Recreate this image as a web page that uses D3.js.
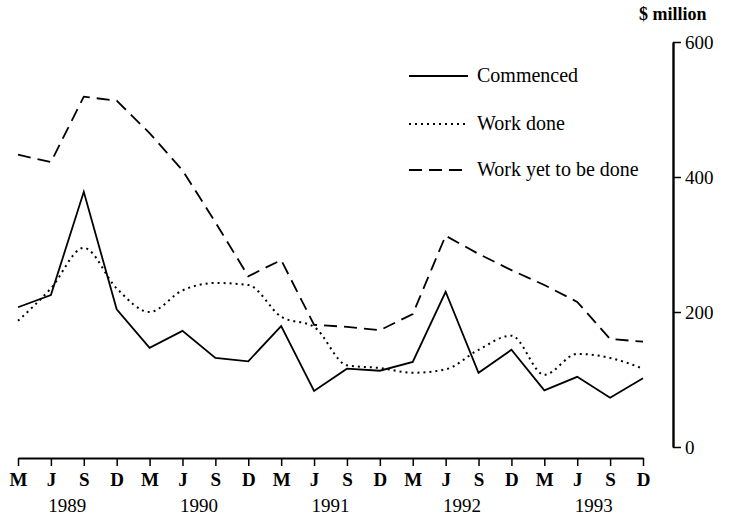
<!DOCTYPE html>
<html>
<head>
<meta charset="utf-8">
<script src="https://cdn.jsdelivr.net/npm/d3@7"></script>
<style>
  body { margin: 0; background: #fff; }
  svg text { font-family: "Liberation Serif", "DejaVu Serif", serif; fill: #000; }
</style>
</head>
<body>
<svg id="chart" width="747" height="519"></svg>
<script>
// quarters, March 1989 to December 1993
const months = ["M","J","S","D","M","J","S","D","M","J","S","D","M","J","S","D","M","J","S","D"];
const years = ["1989", "1990", "1991", "1992", "1993"];
const commenced = [207, 225, 378, 204, 147, 172, 132, 127, 179, 83, 116, 113, 126, 230, 110, 144, 84, 104, 73, 102];
const workDone = [187, 235, 295, 235, 200, 232, 243, 240, 193, 178, 121, 117, 110, 115, 144, 165, 107, 138, 132, 116];
const yetToDo = [433, 422, 519, 513, 465, 410, 333, 253, 277, 181, 178, 173, 197, 313, 286, 262, 240, 215, 160, 156];
const yTicks = [0, 200, 400, 600];

const svg = d3.select("#chart");

const x = d3.scaleLinear().domain([0, months.length - 1]).range([18, 643]);
const y = d3.scaleLinear().domain([0, 600]).range([447, 42]);

// bottom axis
const xAxis = svg.append("g")
    .attr("transform", "translate(0,458)")
    .call(d3.axisBottom(x)
        .tickValues(d3.range(months.length))
        .tickFormat(i => months[i])
        .tickSize(8)
        .tickSizeOuter(0));
xAxis.select(".domain").attr("stroke", "#000").attr("stroke-width", 1.8);
xAxis.selectAll(".tick line").attr("stroke", "#000").attr("stroke-width", 1.5);
xAxis.selectAll(".tick text")
    .attr("y", 15)
    .style("font-size", "19px")
    .style("font-weight", "bold")
    .style("font-family", "'Liberation Serif', serif");

// year labels, centred between J and S of each year
svg.append("g").selectAll("text")
    .data(years)
    .enter()
    .append("text")
    .attr("x", (d, i) => (x(i * 4 + 1) + x(i * 4 + 2)) / 2)
    .attr("y", 512)
    .attr("text-anchor", "middle")
    .style("font-size", "19px")
    .text(d => d);

// right axis
const yAxis = svg.append("g")
    .attr("transform", "translate(673,0)")
    .call(d3.axisRight(y)
        .tickValues(yTicks)
        .tickSize(8)
        .tickSizeOuter(0)
        .tickPadding(4));
yAxis.select(".domain").attr("stroke", "#000").attr("stroke-width", 2.4);
yAxis.selectAll(".tick line").attr("stroke", "#000").attr("stroke-width", 1.5);
yAxis.selectAll(".tick text")
    .style("font-size", "19px")
    .style("font-family", "'Liberation Serif', serif");

svg.append("text")
    .attr("x", 639)
    .attr("y", 20)
    .style("font-size", "18px")
    .style("font-weight", "bold")
    .text("$ million");

// series
const series = [
    { name: "Commenced", values: commenced, dash: null, curve: d3.curveLinear },
    { name: "Work done", values: workDone, dash: "2,4", curve: d3.curveMonotoneX },
    { name: "Work yet to be done", values: yetToDo, dash: "13,7", curve: d3.curveLinear }
];

series.forEach(s => {
    const line = d3.line()
        .x((d, i) => x(i))
        .y(d => y(d))
        .curve(s.curve);
    svg.append("path")
        .datum(s.values)
        .attr("fill", "none")
        .attr("stroke", "#000")
        .attr("stroke-width", s.dash === "2,4" ? 2 : 1.8)
        .attr("stroke-dasharray", s.dash)
        .attr("d", line);
});

// legend
const legend = svg.append("g");
const legendY = [76, 124, 170];
series.forEach((s, i) => {
    legend.append("line")
        .attr("x1", 409).attr("x2", 468)
        .attr("y1", legendY[i]).attr("y2", legendY[i])
        .attr("stroke", "#000")
        .attr("stroke-width", s.dash === "2,4" ? 2 : 1.8)
        .attr("stroke-dasharray", s.dash);
    legend.append("text")
        .attr("x", 477)
        .attr("y", legendY[i] + 6)
        .style("font-size", "20px")
        .text(s.name);
});
</script>
</body>
</html>
